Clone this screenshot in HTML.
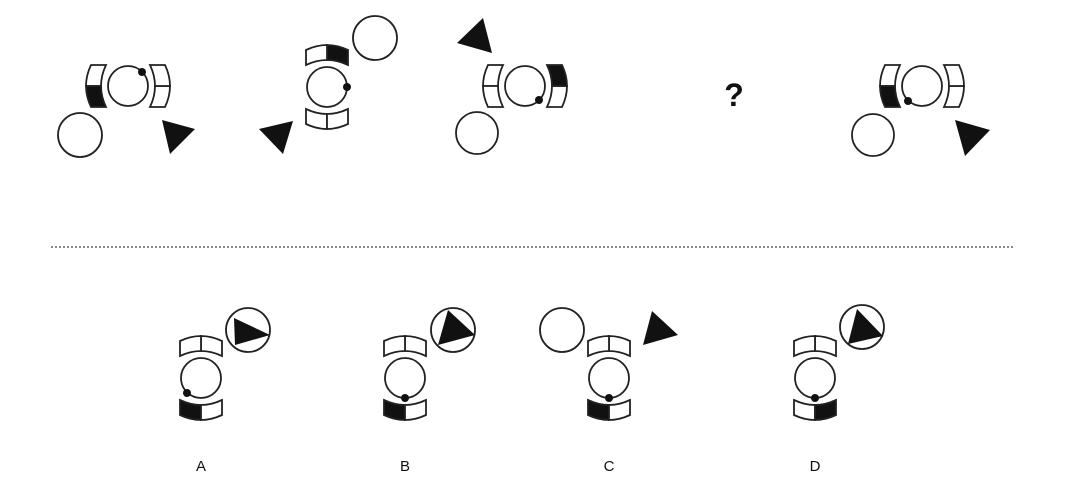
<!DOCTYPE html>
<html><head><meta charset="utf-8"><style>
html,body{margin:0;padding:0;background:#fff;}
svg{display:block;}
</style></head><body>
<svg width="1078" height="496" viewBox="0 0 1078 496" xmlns="http://www.w3.org/2000/svg">
<defs>
  <path id="hA" d="M-37,-21 L-22,-21 Q-27,-10.5 -27,0 L-42,0 Q-42,-10.5 -37,-21 Z"/>
  <path id="hB" d="M-37,21 L-22,21 Q-27,10.5 -27,0 L-42,0 Q-42,10.5 -37,21 Z"/>
</defs>
<g stroke="#222" stroke-width="1.8" fill="#fff">
<!-- Fig 1 -->
<g transform="translate(128,86)">
  <circle r="20"/>
  <use href="#hA" fill="#fff"/><use href="#hB" fill="#111"/>
  <g transform="rotate(180)"><use href="#hA" fill="#fff"/><use href="#hB" fill="#fff"/></g>
  <circle cx="14" cy="-14" r="4" fill="#111" stroke="none"/>
</g>
<circle cx="80" cy="135" r="22"/>
<polygon points="162,120 195,129 170,154" fill="#111" stroke="none"/>

<!-- Fig 2 -->
<g transform="translate(327,87)">
  <circle r="20"/>
  <g transform="rotate(90)"><use href="#hA" fill="#111"/><use href="#hB" fill="#fff"/></g>
  <g transform="rotate(-90)"><use href="#hA" fill="#fff"/><use href="#hB" fill="#fff"/></g>
  <circle cx="20" cy="0" r="4" fill="#111" stroke="none"/>
</g>
<circle cx="375" cy="38" r="22"/>
<polygon points="259,129 293,121 283,154" fill="#111" stroke="none"/>

<!-- Fig 3 -->
<g transform="translate(525,86)">
  <circle r="20"/>
  <use href="#hA" fill="#fff"/><use href="#hB" fill="#fff"/>
  <g transform="rotate(180)"><use href="#hA" fill="#fff"/><use href="#hB" fill="#111"/></g>
  <circle cx="14" cy="14" r="4" fill="#111" stroke="none"/>
</g>
<circle cx="477" cy="133" r="21"/>
<polygon points="457,43 483,18 492,53" fill="#111" stroke="none"/>

<!-- Fig 5 -->
<g transform="translate(922,86)">
  <circle r="20"/>
  <use href="#hA" fill="#fff"/><use href="#hB" fill="#111"/>
  <g transform="rotate(180)"><use href="#hA" fill="#fff"/><use href="#hB" fill="#fff"/></g>
  <circle cx="-14" cy="15" r="4" fill="#111" stroke="none"/>
</g>
<circle cx="873" cy="135" r="21"/>
<polygon points="955,120 990,130 965,156" fill="#111" stroke="none"/>

<!-- Option A -->
<g transform="translate(201,378)">
  <circle r="20"/>
  <g transform="rotate(90)"><use href="#hA" fill="#fff"/><use href="#hB" fill="#fff"/></g>
  <g transform="rotate(-90)"><use href="#hA" fill="#111"/><use href="#hB" fill="#fff"/></g>
  <circle cx="-14" cy="15" r="4" fill="#111" stroke="none"/>
</g>
<circle cx="248" cy="330" r="22"/>
<polygon points="234,318 270,335 235,345" fill="#111" stroke="none"/>

<!-- Option B -->
<g transform="translate(405,378)">
  <circle r="20"/>
  <g transform="rotate(90)"><use href="#hA" fill="#fff"/><use href="#hB" fill="#fff"/></g>
  <g transform="rotate(-90)"><use href="#hA" fill="#111"/><use href="#hB" fill="#fff"/></g>
  <circle cx="0" cy="20" r="4" fill="#111" stroke="none"/>
</g>
<circle cx="453" cy="330" r="22"/>
<polygon points="448,310 475,335 438,345" fill="#111" stroke="none"/>

<!-- Option C -->
<g transform="translate(609,378)">
  <circle r="20"/>
  <g transform="rotate(90)"><use href="#hA" fill="#fff"/><use href="#hB" fill="#fff"/></g>
  <g transform="rotate(-90)"><use href="#hA" fill="#111"/><use href="#hB" fill="#fff"/></g>
  <circle cx="0" cy="20" r="4" fill="#111" stroke="none"/>
</g>
<circle cx="562" cy="330" r="22"/>
<polygon points="652,311 678,335 643,345" fill="#111" stroke="none"/>

<!-- Option D -->
<g transform="translate(815,378)">
  <circle r="20"/>
  <g transform="rotate(90)"><use href="#hA" fill="#fff"/><use href="#hB" fill="#fff"/></g>
  <g transform="rotate(-90)"><use href="#hA" fill="#fff"/><use href="#hB" fill="#111"/></g>
  <circle cx="0" cy="20" r="4" fill="#111" stroke="none"/>
</g>
<circle cx="862" cy="327" r="22"/>
<polygon points="857,309 883,336 848,344" fill="#111" stroke="none"/>
</g>

<line x1="51" y1="247" x2="1015" y2="247" stroke="#888" stroke-width="2" stroke-dasharray="2,2"/>

<text x="734" y="106" font-family="Liberation Sans, sans-serif" font-size="32" font-weight="bold" text-anchor="middle" fill="#111">?</text>
<g font-family="Liberation Sans, sans-serif" font-size="15" text-anchor="middle" fill="#111">
<text x="201" y="471">A</text>
<text x="405" y="471">B</text>
<text x="609" y="471">C</text>
<text x="815" y="471">D</text>
</g>
</svg>
</body></html>
